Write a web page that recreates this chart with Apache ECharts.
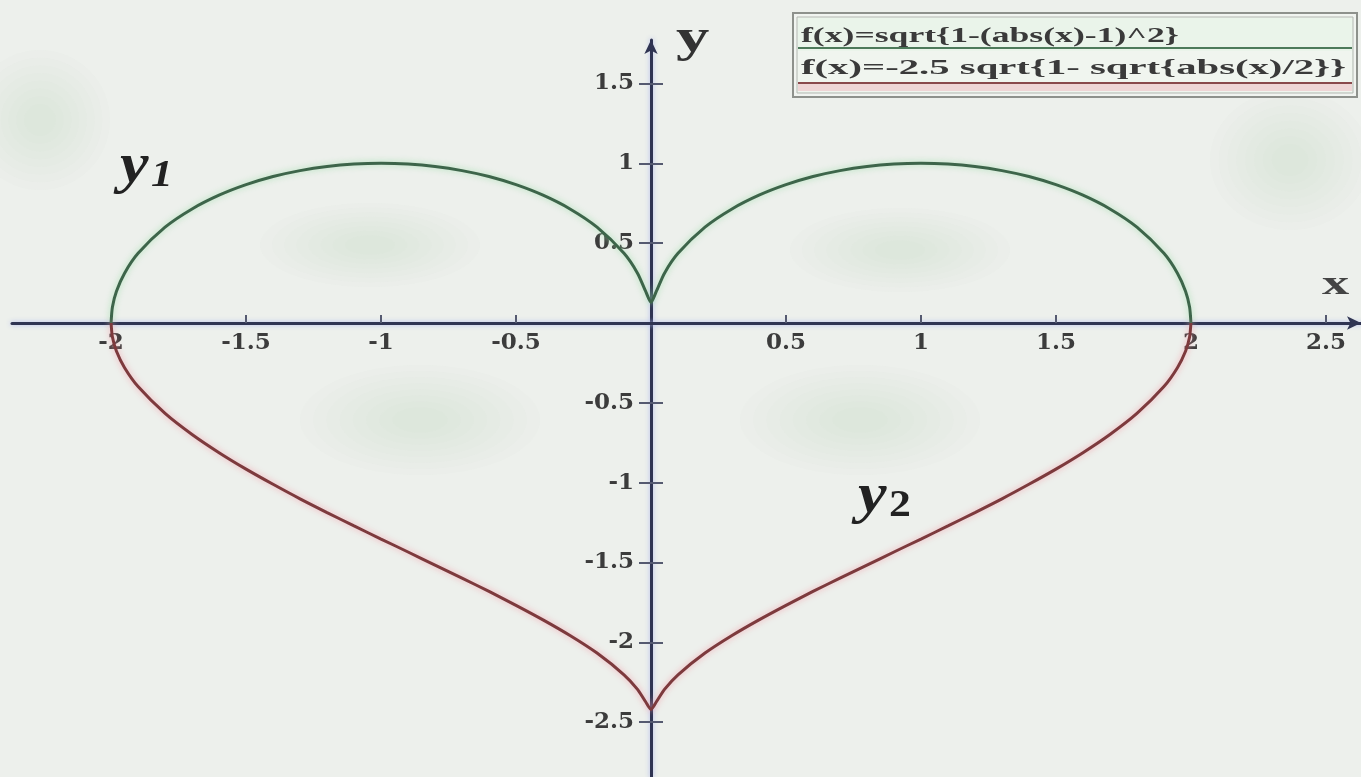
<!DOCTYPE html>
<html lang="en">
<head>
  <meta charset="UTF-8">
  <title>heart</title>
  <script src="https://cdn.jsdelivr.net/npm/echarts@6/dist/echarts.min.js"></script>
  <style>
    html, body { margin: 0; padding: 0; background: #edf0ec; }
    #main { width: 1361px; height: 777px; }
  </style>
</head>
<body>
  <div id="main"></div>
  <script>
    // points, x shared by both curves
    var heartX = [-2, -1.995, -1.98, -1.95, -1.9, -1.8, -1.7, -1.6, -1.5, -1.4, -1.3, -1.2, -1.1, -1,
      -0.9, -0.8, -0.7, -0.6, -0.5, -0.4, -0.3, -0.2, -0.1, -0.05, -0.02, 0, 0.02, 0.05,
      0.1, 0.2, 0.3, 0.4, 0.5, 0.6, 0.7, 0.8, 0.9, 1, 1.1, 1.2, 1.3, 1.4, 1.5, 1.6, 1.7, 1.8,
      1.9, 1.95, 1.98, 1.995, 2]
    // y1 (upper, green)
    var topY = [0, 0.100, 0.199, 0.312, 0.436, 0.600, 0.714, 0.800, 0.866, 0.917, 0.954, 0.980, 0.995, 1,
      0.995, 0.980, 0.954, 0.917, 0.866, 0.800, 0.714, 0.600, 0.436, 0.312, 0.199, 0.13, 0.199, 0.312,
      0.436, 0.600, 0.714, 0.800, 0.866, 0.917, 0.954, 0.980, 0.995, 1, 0.995, 0.980, 0.954, 0.917, 0.866, 0.800, 0.714, 0.600,
      0.436, 0.312, 0.199, 0.100, 0]
    // y2 (lower, red)
    var bottomY = [0, -0.088, -0.177, -0.280, -0.398, -0.566, -0.698, -0.812, -0.915, -1.010, -1.101, -1.187, -1.271, -1.353,
      -1.434, -1.516, -1.598, -1.681, -1.768, -1.859, -1.957, -2.067, -2.203, -2.294, -2.372, -2.42, -2.372, -2.294,
      -2.203, -2.067, -1.957, -1.859, -1.768, -1.681, -1.598, -1.516, -1.434, -1.353, -1.271, -1.187, -1.101, -1.010, -0.915, -0.812, -0.698, -0.566,
      -0.398, -0.280, -0.177, -0.088, 0]

    var xTicks = [-2, -1.5, -1, -0.5, 0.5, 1, 1.5, 2, 2.5]
    var yTicks = [1.5, 1, 0.5, -0.5, -1, -1.5, -2, -2.5]
    var legendNames = ['f(x)=sqrt{1-(abs(x)-1)^2}', 'f(x)=-2.5 sqrt{1- sqrt{abs(x)/2}}']

    function pairs(xs, ys) {
      return xs.map(function (x, i) { return [x, ys[i]] })
    }

    var serif = "'Liberation Serif', 'DejaVu Serif', serif"
    var wideSerif = "'DejaVu Serif', 'Liberation Serif', serif"
    var axisColor = '#2f3452'

    // soft darker patch made of a few stacked ellipses
    function blob(cx, cy, rx, ry) {
      var out = []
      for (var k = 0; k < 8; k++) {
        var f = 1 - k * 0.11
        out.push({
          type: 'ellipse', silent: true, z: -10,
          shape: { cx: cx, cy: cy, rx: rx * f, ry: ry * f },
          style: { fill: 'rgba(205,214,203,0.06)' }
        })
      }
      return out
    }

    var mCharts = echarts.init(document.getElementById('main'))
    var option = {
      backgroundColor: '#edf0ec',
      animation: false,
      grid: { left: 12, right: 0, top: 40, bottom: 0, outerBoundsMode: 'none', containLabel: false },
      xAxis: {
        type: 'value', min: -2.367, max: 2.63, position: 'bottom', offset: -454,
        splitLine: { show: false },
        axisLine: {
          onZero: false, symbol: ['none', 'arrow'], symbolSize: [10, 14],
          lineStyle: { color: axisColor, width: 3, shadowColor: 'rgba(170,180,235,0.9)', shadowBlur: 5 }
        },
        axisTick: { inside: true, length: 8, lineStyle: { color: '#555a70', width: 2 }, customValues: xTicks },
        axisLabel: {
          customValues: xTicks, margin: 9, color: '#3c3c3c', fontFamily: wideSerif, fontWeight: 'bold', fontSize: 23
        }
      },
      yAxis: [
        {
          type: 'value', min: -2.843, max: 1.772, position: 'left', offset: -639,
          splitLine: { show: false },
          axisLine: {
            onZero: false, symbol: ['none', 'arrow'], symbolSize: [10, 14],
            lineStyle: { color: axisColor, width: 3, shadowColor: 'rgba(170,180,235,0.9)', shadowBlur: 5 }
          },
          axisTick: { length: 12, lineStyle: { color: '#555a70', width: 2 }, customValues: yTicks },
          axisLabel: {
            customValues: yTicks, margin: 17, color: '#3c3c3c', fontFamily: wideSerif, fontWeight: 'bold', fontSize: 23
          }
        },
        {
          type: 'value', min: -2.843, max: 1.772, position: 'right', offset: -710,
          splitLine: { show: false },
          axisLine: { onZero: false, lineStyle: { color: 'rgba(0,0,0,0)', width: 0 } },
          axisTick: { length: 12, lineStyle: { color: '#555a70', width: 2 }, customValues: yTicks },
          axisLabel: { show: false }
        }
      ],
      series: [
        {
          type: 'line', name: legendNames[0], data: pairs(heartX, topY),
          showSymbol: false, z: 5, smooth: 0.25,
          lineStyle: { color: '#3d654a', width: 3, shadowColor: 'rgba(150,220,165,0.8)', shadowBlur: 6 }
        },
        {
          type: 'line', name: legendNames[1], data: pairs(heartX, bottomY),
          showSymbol: false, z: 5, smooth: 0.25,
          lineStyle: { color: '#7d3a3d', width: 3, shadowColor: 'rgba(245,150,165,0.8)', shadowBlur: 6 }
        }
      ],
      graphic: [].concat(
        blob(370, 245, 110, 42), blob(900, 250, 110, 42), blob(420, 420, 120, 55), blob(860, 420, 120, 55),
        blob(1290, 160, 80, 70), blob(40, 120, 70, 70),
        [
          // axis names
          { type: 'text', left: 676, top: 16, scaleX: 1.45, style: { text: 'y', font: 'bold 46px ' + serif, fill: '#333' } },
          { type: 'text', left: 1322, top: 268, scaleX: 1.6, style: { text: 'x', font: 'bold 34px ' + serif, fill: '#444' } },
          // curve labels
          {
            type: 'text', left: 120, top: 140, scaleX: 1.15,
            style: {
              text: '{a|y}{b|1}',
              rich: {
                a: { font: 'italic bold 56px ' + serif, fill: '#222' },
                b: { font: 'italic bold 38px ' + serif, fill: '#222', padding: [16, 0, 0, 2] }
              }
            }
          },
          {
            type: 'text', left: 858, top: 470, scaleX: 1.15,
            style: {
              text: '{a|y}{b|2}',
              rich: {
                a: { font: 'italic bold 56px ' + serif, fill: '#222' },
                b: { font: 'bold 38px ' + serif, fill: '#222', padding: [16, 0, 0, 2] }
              }
            }
          },
          // legend box
          {
            type: 'group', left: 792, top: 12,
            children: [
              { type: 'rect', shape: { x: 0, y: 0, width: 564, height: 84 }, style: { fill: '#f1f4f0', stroke: '#8e918c', lineWidth: 2 } },
              { type: 'rect', shape: { x: 4, y: 4, width: 556, height: 76 }, style: { fill: '#eaf4ea', stroke: '#b5b8b3', lineWidth: 1 } },
              { type: 'rect', shape: { x: 5, y: 38, width: 554, height: 41 }, style: { fill: '#f0f5ef' } },
              { type: 'text', x: 8, y: 12, scaleX: 1.62, style: { text: legendNames[0], font: 'bold 22px ' + serif, fill: '#3a3a3a' } },
              { type: 'line', shape: { x1: 5, y1: 35, x2: 559, y2: 35 }, style: { stroke: '#4d7a5a', lineWidth: 2 } },
              { type: 'text', x: 8, y: 44, scaleX: 1.85, style: { text: legendNames[1], font: 'bold 22px ' + serif, fill: '#3a3a3a' } },
              { type: 'rect', shape: { x: 5, y: 71, width: 554, height: 7 }, style: { fill: '#efd6d6' } },
              { type: 'line', shape: { x1: 5, y1: 70, x2: 559, y2: 70 }, style: { stroke: '#8a4a4c', lineWidth: 2 } }
            ]
          }
        ]
      )
    }
    mCharts.setOption(option)
  </script>
</body>
</html>
